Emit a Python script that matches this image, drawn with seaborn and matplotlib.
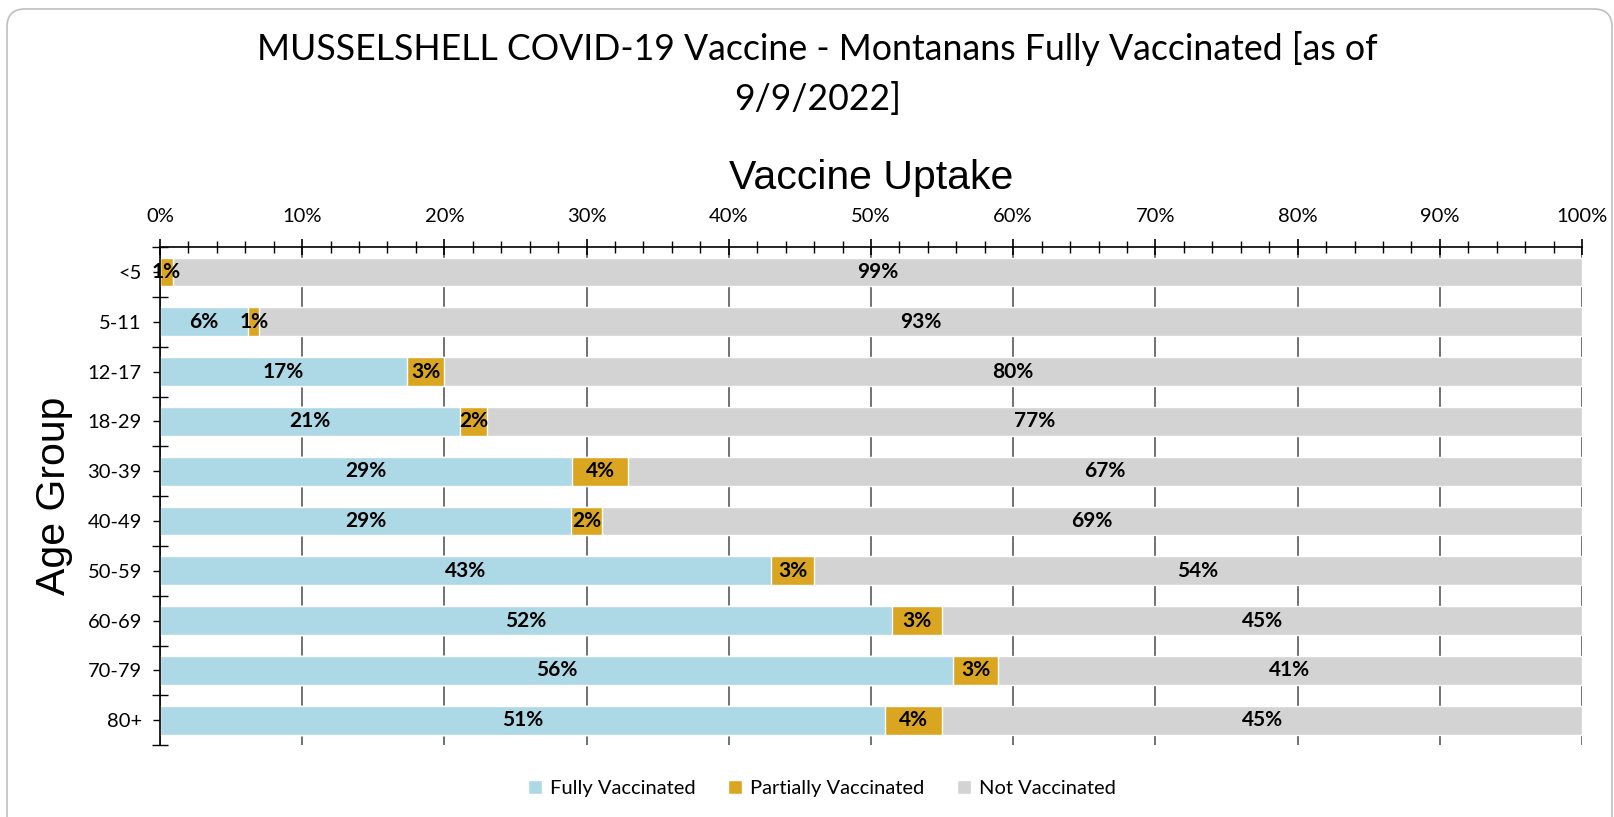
import numpy as np
import pandas as pd
import matplotlib
matplotlib.use("Agg")
import matplotlib.pyplot as plt
import matplotlib.patches as mpatches
import seaborn as sns

# Data (percent of each age group)
age_groups = ["<5", "5-11", "12-17", "18-29", "30-39", "40-49", "50-59", "60-69", "70-79", "80+"]
fully = [0.0, 6.2, 17.4, 21.1, 29.0, 28.9, 43.0, 51.5, 55.8, 51.0]
partial = [0.9, 0.8, 2.6, 1.9, 3.9, 2.2, 3.0, 3.5, 3.1, 4.0]
not_vacc = [99.1, 93.0, 80.0, 77.0, 67.1, 68.9, 54.0, 45.0, 41.1, 45.0]
fully_lbl = ["", "6%", "17%", "21%", "29%", "29%", "43%", "52%", "56%", "51%"]
partial_lbl = ["1%", "1%", "3%", "2%", "4%", "2%", "3%", "3%", "3%", "4%"]
not_lbl = ["99%", "93%", "80%", "77%", "67%", "69%", "54%", "45%", "41%", "45%"]

c_fully = "#ADD8E6"
c_partial = "#DAA520"
c_not = "#D3D3D3"

df = pd.DataFrame({"age": age_groups, "fully": fully, "partial": partial, "not": not_vacc})
df["cum_partial"] = df["fully"] + df["partial"]
df["cum_not"] = df["cum_partial"] + df["not"]

sns.set_theme(style="white")
plt.rcParams["font.family"] = ["Lato", "DejaVu Sans"]
plt.rcParams["text.color"] = "black"
plt.rcParams["axes.labelcolor"] = "black"
plt.rcParams["xtick.color"] = "black"
plt.rcParams["ytick.color"] = "black"

fig = plt.figure(figsize=(16.15, 8.17), dpi=100)
ax = fig.add_axes([0.099, 0.088, 0.8806, 0.6095])

# stacked bars: draw totals first, then overlay shorter segments
sns.barplot(data=df, x="cum_not", y="age", color=c_not, width=0.58, ax=ax,
            label="Not Vaccinated", saturation=1, orient="h")
sns.barplot(data=df, x="cum_partial", y="age", color=c_partial, width=0.58, ax=ax,
            label="Partially Vaccinated", saturation=1, orient="h")
sns.barplot(data=df, x="fully", y="age", color=c_fully, width=0.58, ax=ax,
            label="Fully Vaccinated", saturation=1, orient="h")

# segment labels
for i in range(len(age_groups)):
    segs = [(0, fully[i], fully_lbl[i]),
            (fully[i], partial[i], partial_lbl[i]),
            (fully[i] + partial[i], not_vacc[i], not_lbl[i])]
    for left, w, txt in segs:
        if txt:
            ax.text(left + w / 2, i, txt, ha="center", va="center",
                    fontsize=15, fontweight="bold", color="black")

ax.set_xlim(0, 100)
ax.set_ylim(len(age_groups) - 0.5, -0.5)
ax.xaxis.tick_top()
ax.set_xticks(np.arange(0, 101, 10))
ax.set_xticklabels([f"{v}%" for v in range(0, 101, 10)], fontsize=14.5)
ax.set_xticks(np.arange(0, 101, 2), minor=True)
ax.tick_params(axis="x", which="major", direction="inout", length=12, width=1.2,
               color="black", pad=10, top=True, bottom=False)
ax.tick_params(axis="x", which="minor", direction="inout", length=8, width=1,
               color="black", top=True, bottom=False)
ax.set_yticks(range(len(age_groups)))
ax.set_yticklabels(age_groups, fontsize=14.5)
ax.set_yticks(np.arange(-0.5, len(age_groups), 1), minor=True)
ax.tick_params(axis="y", which="major", direction="out", length=5, width=1,
               color="black", pad=8, left=True)
ax.tick_params(axis="y", which="minor", direction="inout", length=12, width=1,
               color="black", left=True)

ax.set_axisbelow(True)
ax.grid(axis="x", which="major", color="#595959", linewidth=1.2)
ax.grid(axis="y", visible=False)
for side in ["right", "bottom"]:
    ax.spines[side].set_visible(False)
for side in ["top", "left"]:
    ax.spines[side].set_color("black")
    ax.spines[side].set_linewidth(1.2)

ax.set_xlabel("")
ax.set_ylabel("Age Group", fontsize=29.5, family=["Liberation Sans"])
ax.yaxis.set_label_coords(-0.061, 0.5)
ax.set_title("Vaccine Uptake", fontsize=29.5, family=["Liberation Sans"], pad=42)

fig.text(0.506, 0.91, "MUSSELSHELL COVID-19 Vaccine - Montanans Fully Vaccinated [as of\n9/9/2022]",
         ha="center", va="center", fontsize=25.7, linespacing=1.55)

handles, labels = ax.get_legend_handles_labels()
order = [labels.index(l) for l in ["Fully Vaccinated", "Partially Vaccinated", "Not Vaccinated"]]
ax.legend([handles[k] for k in order], [labels[k] for k in order],
          loc="center", bbox_to_anchor=(0.509, 0.035), bbox_transform=fig.transFigure,
          ncol=3, frameon=False, fontsize=14.5, handlelength=0.7, handleheight=0.7,
          columnspacing=1.6, handletextpad=0.4)

# rounded frame around the chart
frame = mpatches.FancyBboxPatch((0.07, -0.3), 16.05, 8.17 - 0.09 + 0.3,
                                boxstyle="round,pad=0,rounding_size=0.18",
                                transform=fig.dpi_scale_trans, fill=False,
                                edgecolor="#BFBFBF", linewidth=1.2)
fig.add_artist(frame)

fig.savefig("out.png", dpi=100)
